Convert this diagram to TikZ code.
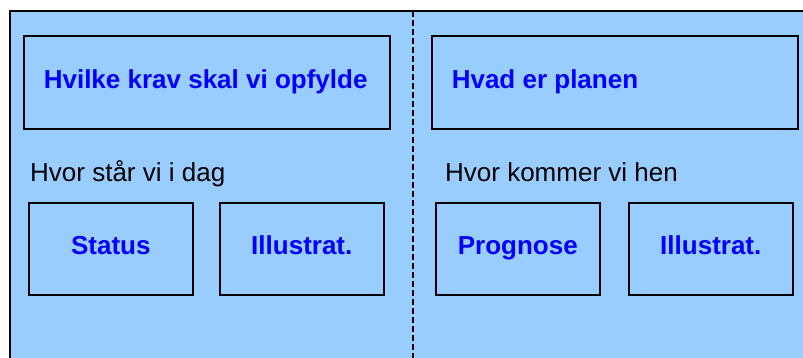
\documentclass[tikz,border=0pt]{standalone}
\usepackage{fontspec}
\setmainfont{Liberation Sans}
\usetikzlibrary{positioning}
\definecolor{paneblue}{HTML}{99CCFF}
\definecolor{labelblue}{HTML}{0000FF}
\newcommand{\lefttext}[1]{\makebox[326pt][l]{#1}}

\begin{document}
\begin{tikzpicture}[x = 1pt, y = -1pt,
  box/.style = {draw, line width = 1.6pt, inner sep = 0pt, anchor = north west,
    text height = 20pt, text depth = 8pt,
    font = \fontsize{26}{30}\selectfont\bfseries, text = labelblue},
  wide/.style = {box, minimum width = 366pt, minimum height = 93pt},
  small/.style = {box, minimum width = 164pt, minimum height = 92pt},
  note/.style = {anchor = base west, inner sep = 0pt, font = \fontsize{26}{30}\selectfont}]
\useasboundingbox (0,0) rectangle (803,358);
\clip (0,0) rectangle (803,358);
\draw [fill = paneblue, line width = 1.6pt] (10,11) rectangle (830,390);
\coordinate (top) at (413,11);
\coordinate (bottom) at (413,360);
\draw [dash pattern = on 6pt off 3pt, line width = 2pt] (top) -- (bottom);
\node [wide] (krav) at (23,35) {\lefttext{Hvilke krav skal vi opfylde}};
\node [wide] (plan) at (431,35) {\lefttext{Hvad er planen}};
\node [note] (idag) at (30,182) {Hvor står vi i dag};
\node [note] (hen) at (445,182) {Hvor kommer vi hen};
\node [small] (status) at (28,202) {Status};
\node [small] (illu-a) at (219,202) {Illustrat.};
\node [small] (prognose) at (435,202) {Prognose};
\node [small] (illu-b) at (628,202) {Illustrat.};
\end{tikzpicture}
\end{document}
